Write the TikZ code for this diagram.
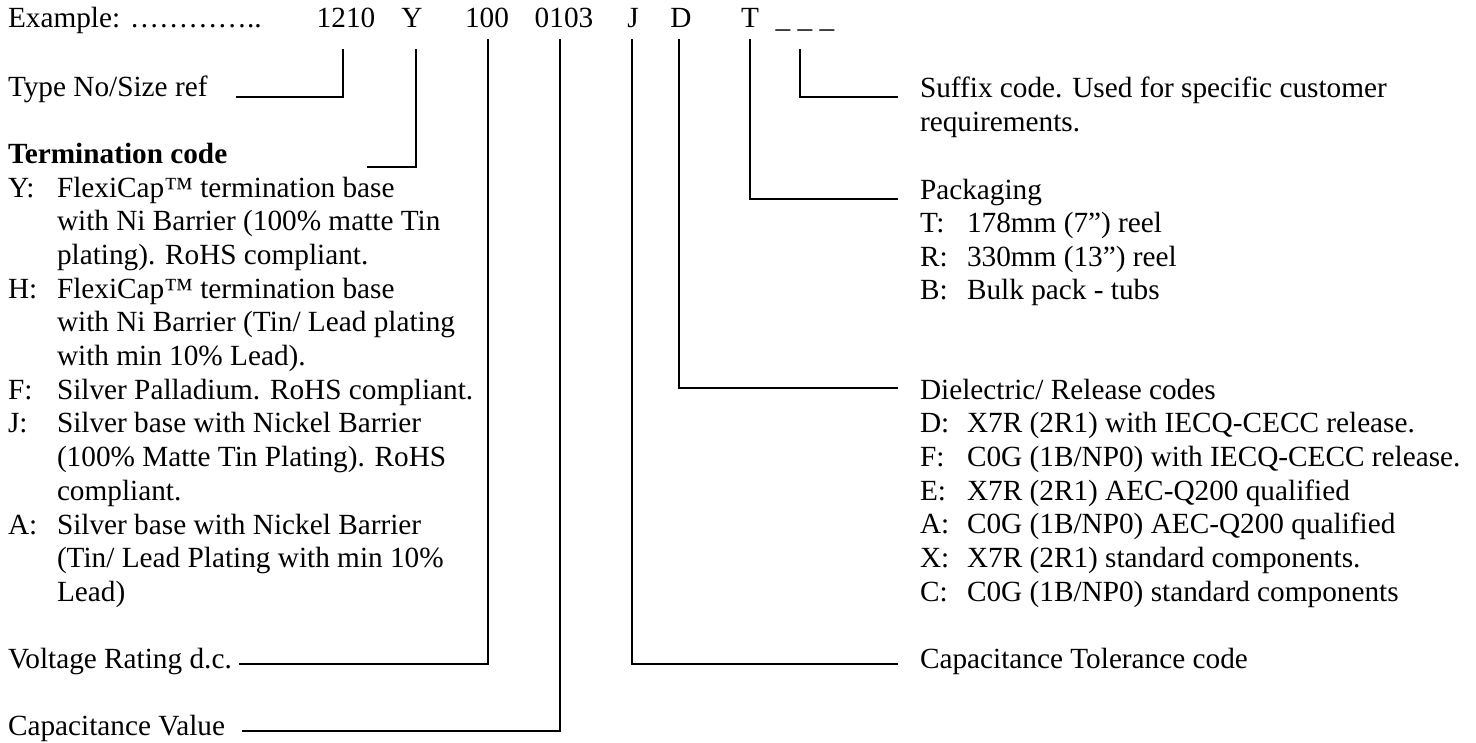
\documentclass[tikz,border=0pt]{standalone}
\usepackage{fontspec}
\setmainfont{Liberation Serif}
\begin{document}
\begin{tikzpicture}[x=0.41pt,y=-0.41pt,
  txt/.style={anchor=base west,inner sep=0pt,outer sep=0pt,font=\fontsize{12}{13.8}\selectfont},
  code/.style={anchor=base,inner sep=0pt,outer sep=0pt,font=\fontsize{12}{13.8}\selectfont},
  conn/.style={line width=0.8pt,line join=miter}]
\useasboundingbox (0,0) rectangle (1476,742);
% top row
\node[txt] (ex) at (8,27) {Example: …………..};
\node[code] (s1210) at (346,27) {1210};
\node[code] (sY) at (412,27) {Y};
\node[code] (s100) at (487,27) {100};
\node[code] (s0103) at (564,27) {0103};
\node[code] (sJ) at (633,27) {J};
\node[code] (sD) at (681,27) {D};
\node[code] (sT) at (750,27) {T};
\node[code] (sSuf) at (805,27) {\_ \_ \_};
% left labels
\node[txt] (lType) at (8,96) {Type No/Size ref};
\node[txt,font=\fontsize{12}{13.8}\selectfont\bfseries] (lTerm) at (8,163) {Termination code};
\foreach \i/\c/\t in {0/{Y:}/{FlexiCap™ termination base},
  1/{}/{with Ni Barrier (100\% matte Tin},
  2/{}/{plating). RoHS compliant.},
  3/{H:}/{FlexiCap™ termination base},
  4/{}/{with Ni Barrier (Tin/ Lead plating},
  5/{}/{with min 10\% Lead).},
  6/{F:}/{Silver Palladium. RoHS compliant.},
  7/{J:}/{Silver base with Nickel Barrier},
  8/{}/{(100\% Matte Tin Plating). RoHS},
  9/{}/{compliant.},
  10/{A:}/{Silver base with Nickel Barrier},
  11/{}/{(Tin/ Lead Plating with min 10\%},
  12/{}/{Lead)}}{
  \node[txt] (tc\i) at (8,197+33.7*\i) {\c};
  \node[txt] (tt\i) at (57,197+33.7*\i) {\t};
}
\node[txt] (lVolt) at (8,668) {Voltage Rating d.c.};
\node[txt] (lCap) at (8,735) {Capacitance Value};
% right labels
\node[txt] (lSuf) at (920,97) {Suffix code. Used for specific customer};
\node[txt] (lSuf2) at (920,131) {requirements.};
\node[txt] (lPack) at (920,199) {Packaging};
\foreach \i/\c/\t in {1/{T:}/{178mm (7”) reel},2/{R:}/{330mm (13”) reel},3/{B:}/{Bulk pack - tubs}}{
  \node[txt] (pc\i) at (920,199+33.6*\i) {\c};
  \node[txt] (pt\i) at (967,199+33.6*\i) {\t};
}
\node[txt] (lDiel) at (920,399) {Dielectric/ Release codes};
\foreach \i/\c/\t in {1/{D:}/{X7R (2R1) with IECQ-CECC release.},
  2/{F:}/{C0G (1B/NP0) with IECQ-CECC release.},
  3/{E:}/{X7R (2R1) AEC-Q200 qualified},
  4/{A:}/{C0G (1B/NP0) AEC-Q200 qualified},
  5/{X:}/{X7R (2R1) standard components.},
  6/{C:}/{C0G (1B/NP0) standard components}}{
  \node[txt] (dc\i) at (920,399+33.7*\i) {\c};
  \node[txt] (dt\i) at (967,399+33.7*\i) {\t};
}
\node[txt] (lTol) at (920,668) {Capacitance Tolerance code};
% connectors
\coordinate (a1) at (343,49);  \coordinate (a2) at (343,97);  \coordinate (a3) at (236,97);
\coordinate (b1) at (416,49);  \coordinate (b2) at (416,167); \coordinate (b3) at (367,167);
\coordinate (c1) at (488,39);  \coordinate (c2) at (488,664); \coordinate (c3) at (239,664);
\coordinate (d1) at (560,39);  \coordinate (d2) at (560,731); \coordinate (d3) at (242,731);
\coordinate (e1) at (632,39);  \coordinate (e2) at (632,664); \coordinate (e3) at (898,664);
\coordinate (f1) at (679,39);  \coordinate (f2) at (679,388); \coordinate (f3) at (898,388);
\coordinate (g1) at (750,39);  \coordinate (g2) at (750,199); \coordinate (g3) at (898,199);
\coordinate (h1) at (800,49);  \coordinate (h2) at (800,97);  \coordinate (h3) at (898,97);
\foreach \p in {a,b,c,d,e,f,g,h}{
  \draw[conn] (\p1) -- (\p2) -- (\p3);
}
\end{tikzpicture}
\end{document}
